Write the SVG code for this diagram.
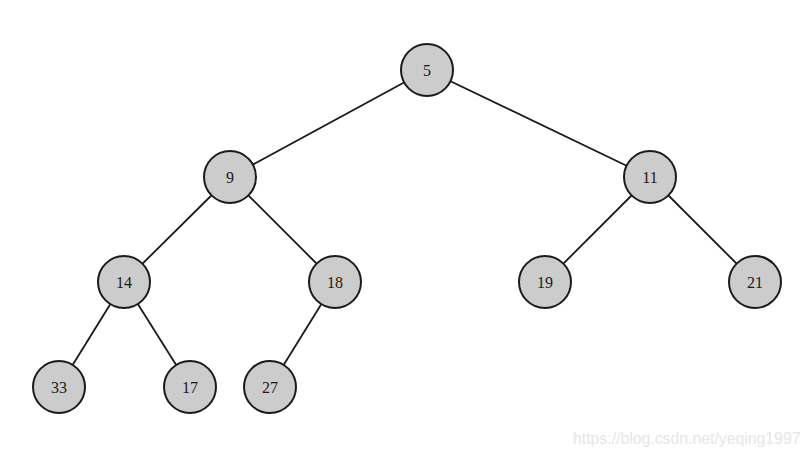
<svg xmlns="http://www.w3.org/2000/svg" width="810" height="457" viewBox="0 0 810 457">
<style>
.n circle{fill:#cccccc;stroke:#1a1a1a;stroke-width:2}
.n text{font-family:"Liberation Serif",serif;font-size:16px;fill:#1a1a1a;text-anchor:middle;dominant-baseline:central}
.e line{stroke:#1a1a1a;stroke-width:1.8}
.wm{font-family:"Liberation Sans",sans-serif;font-size:15.8px;fill:#e6e6e6}
</style>
<rect width="810" height="457" fill="#ffffff"/>
<g id="edges" class="e">
<line x1="427" y1="70" x2="230" y2="177"/>
<line x1="427" y1="70" x2="650" y2="177"/>
<line x1="230" y1="177" x2="124" y2="282"/>
<line x1="230" y1="177" x2="335" y2="282"/>
<line x1="650" y1="177" x2="545" y2="282"/>
<line x1="650" y1="177" x2="755" y2="282"/>
<line x1="124" y1="282" x2="59" y2="387"/>
<line x1="124" y1="282" x2="190" y2="387"/>
<line x1="335" y1="282" x2="270" y2="387"/>
</g>
<g id="n5" class="n"><circle cx="427" cy="70" r="26"/><text x="427" y="70">5</text></g>
<g id="n9" class="n"><circle cx="230" cy="177" r="26"/><text x="230" y="177">9</text></g>
<g id="n11" class="n"><circle cx="650" cy="177" r="26"/><text x="650" y="177">11</text></g>
<g id="n14" class="n"><circle cx="124" cy="282" r="26"/><text x="124" y="282">14</text></g>
<g id="n18" class="n"><circle cx="335" cy="282" r="26"/><text x="335" y="282">18</text></g>
<g id="n19" class="n"><circle cx="545" cy="282" r="26"/><text x="545" y="282">19</text></g>
<g id="n21" class="n"><circle cx="755" cy="282" r="26"/><text x="755" y="282">21</text></g>
<g id="n33" class="n"><circle cx="59" cy="387" r="26"/><text x="59" y="387">33</text></g>
<g id="n17" class="n"><circle cx="190" cy="387" r="26"/><text x="190" y="387">17</text></g>
<g id="n27" class="n"><circle cx="270" cy="387" r="26"/><text x="270" y="387">27</text></g>
<text class="wm" x="573" y="444">https://blog.csdn.net/yeqing1997</text>
</svg>
